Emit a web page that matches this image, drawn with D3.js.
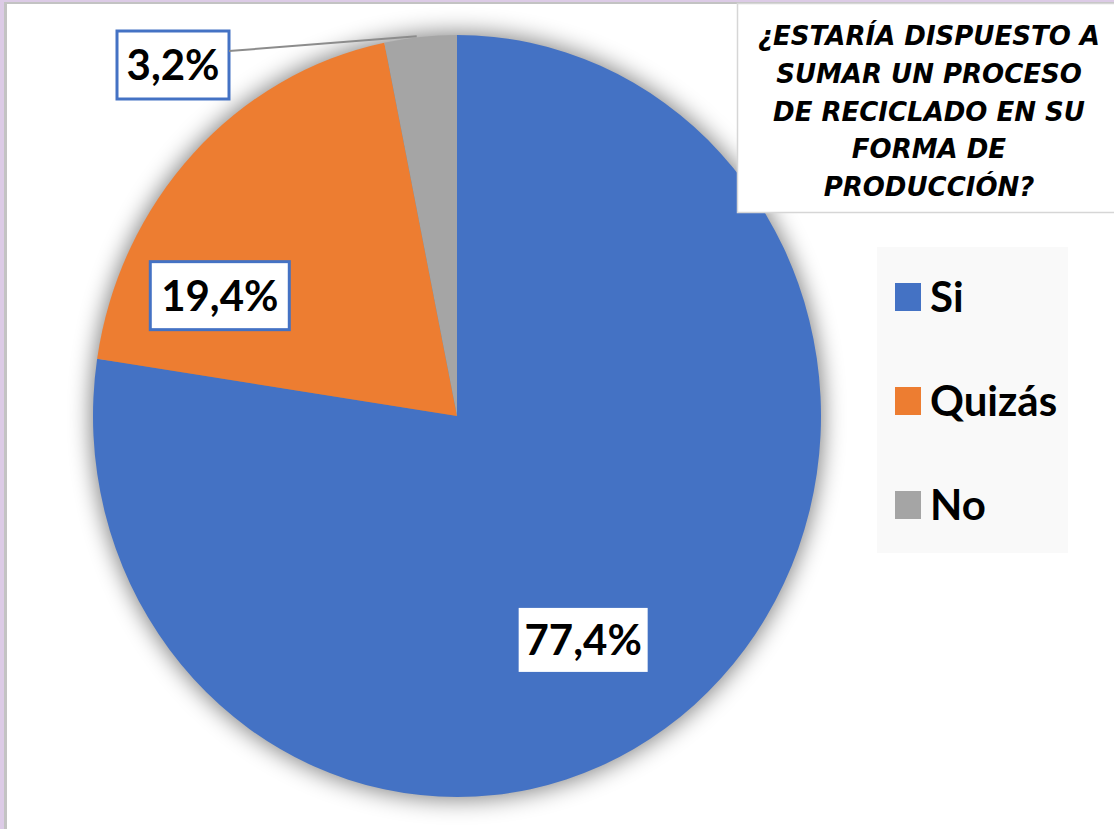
<!DOCTYPE html>
<html>
<head>
<meta charset="utf-8">
<script src="https://cdn.jsdelivr.net/npm/d3@7"></script>
<style>
  body { margin: 0; background: #fff; }
  svg { display: block; }
</style>
</head>
<body>
<div class="chart"></div>
<script>
const categories = ["Si", "Quizás", "No"];
const percents = [77.4, 19.4, 3.2];
const colors = ["#4472c4", "#ed7d31", "#a5a5a5"];
const titleLines = ["¿ESTARÍA DISPUESTO A", "SUMAR UN PROCESO", "DE RECICLADO EN SU", "FORMA DE", "PRODUCCIÓN?"];

const width = 1114;
const height = 829;
const cx = 457, cy = 416, radius = 364;
const stretchY = 381 / 364; // the source picture is a little taller than wide

const fmt = v => d3.format(".1f")(v).replace(".", ",") + "%";

let svg = d3.select(".chart").append("svg")
  .attr("width", width)
  .attr("height", height);

// frame strips at the left / top
svg.append("rect").attr("x", 0).attr("y", 0).attr("width", width).attr("height", height).attr("fill", "#dccbe6");
svg.append("rect").attr("x", 4).attr("y", 2).attr("width", width).attr("height", height).attr("fill", "#c3c3c3");
svg.append("rect").attr("x", 7).attr("y", 4).attr("width", width).attr("height", height).attr("fill", "#ffffff");

const defs = svg.append("defs");
const glow = defs.append("filter").attr("id", "glow")
  .attr("x", "-20%").attr("y", "-20%").attr("width", "140%").attr("height", "140%");
glow.append("feGaussianBlur").attr("in", "SourceAlpha").attr("stdDeviation", 11).attr("result", "blur");
glow.append("feComponentTransfer").append("feFuncA").attr("type", "linear").attr("slope", 0.5);

const pie = d3.pie().sort(null).value(d => d);
const arcs = pie(percents);
const arc = d3.arc().innerRadius(0).outerRadius(radius);

const g = svg.append("g").attr("transform", "translate(" + cx + "," + cy + ") scale(1," + stretchY + ")");

// soft shadow under the pie
g.append("circle").attr("r", radius + 2).attr("fill", "#000").attr("filter", "url(#glow)");

g.selectAll("path.slice")
  .data(arcs)
  .enter()
  .append("path")
  .attr("class", "slice")
  .attr("d", arc)
  .attr("fill", (d, i) => colors[i]);

// title box
svg.append("rect")
  .attr("x", 737.5).attr("y", 3.5)
  .attr("width", 400).attr("height", 209)
  .attr("fill", "#fff")
  .attr("stroke", "#d6d6d6")
  .attr("stroke-width", 1.5);

svg.append("g").selectAll("text")
  .data(titleLines)
  .enter()
  .append("text")
  .attr("x", 929)
  .attr("y", (d, i) => 45 + i * 37.8)
  .attr("text-anchor", "middle")
  .attr("font-family", "DejaVu Sans")
  .attr("font-weight", "bold")
  .attr("font-style", "italic")
  .attr("font-size", "26px")
  .attr("fill", "#000")
  .text(d => d);

// legend
svg.append("rect")
  .attr("x", 877).attr("y", 247)
  .attr("width", 191).attr("height", 306)
  .attr("fill", "#f9f9f9");

const legend = svg.append("g").selectAll("g")
  .data(categories)
  .enter()
  .append("g")
  .attr("transform", (d, i) => "translate(895," + (297 + i * 104) + ")");

legend.append("rect")
  .attr("x", 0).attr("y", -14)
  .attr("width", 26).attr("height", 28)
  .attr("fill", (d, i) => colors[i]);

legend.append("text")
  .attr("x", 35)
  .attr("y", 15)
  .attr("font-family", "Lato")
  .attr("font-weight", "bold")
  .attr("font-size", "42px")
  .attr("fill", "#000")
  .text(d => d);

// data labels: angle (deg, clockwise from top) and distance from the centre
const labelSpots = [
  { angle: 150.6, dist: 257, w: 129, h: 64, border: false },
  { angle: 296.9, dist: 266, w: 139, h: 68, border: true },
  { angle: 0, dist: 0, w: 112, h: 68, border: true, fixed: [173, 65] }
];

const labels = svg.append("g").selectAll("g")
  .data(arcs)
  .enter()
  .append("g")
  .attr("transform", (d, i) => {
    const s = labelSpots[i];
    let x, y;
    if (s.fixed) { x = s.fixed[0]; y = s.fixed[1]; }
    else {
      const a = s.angle * Math.PI / 180;
      x = cx + s.dist * Math.sin(a);
      y = cy - s.dist * Math.cos(a);
    }
    return "translate(" + x + "," + y + ")";
  });

// leader line for the small slice
const small = arcs[2];
const leadAngle = small.startAngle + (small.endAngle - small.startAngle) * 0.45;
svg.append("line")
  .attr("x1", 229).attr("y1", 51)
  .attr("x2", cx + (radius + 1) * Math.sin(leadAngle))
  .attr("y2", cy - (radius + 1) * stretchY * Math.cos(leadAngle))
  .attr("stroke", "#8c8c8c")
  .attr("stroke-width", 2);

labels.append("rect")
  .attr("x", (d, i) => -labelSpots[i].w / 2)
  .attr("y", (d, i) => -labelSpots[i].h / 2)
  .attr("width", (d, i) => labelSpots[i].w)
  .attr("height", (d, i) => labelSpots[i].h)
  .attr("fill", "#fff")
  .attr("stroke", (d, i) => labelSpots[i].border ? "#4472c4" : "none")
  .attr("stroke-width", 3);

labels.append("text")
  .attr("text-anchor", "middle")
  .attr("y", 15)
  .attr("font-family", "Lato")
  .attr("font-weight", "bold")
  .attr("font-size", "42px")
  .attr("fill", "#000")
  .text(d => fmt(d.data));

labels.raise();
</script>
</body>
</html>
